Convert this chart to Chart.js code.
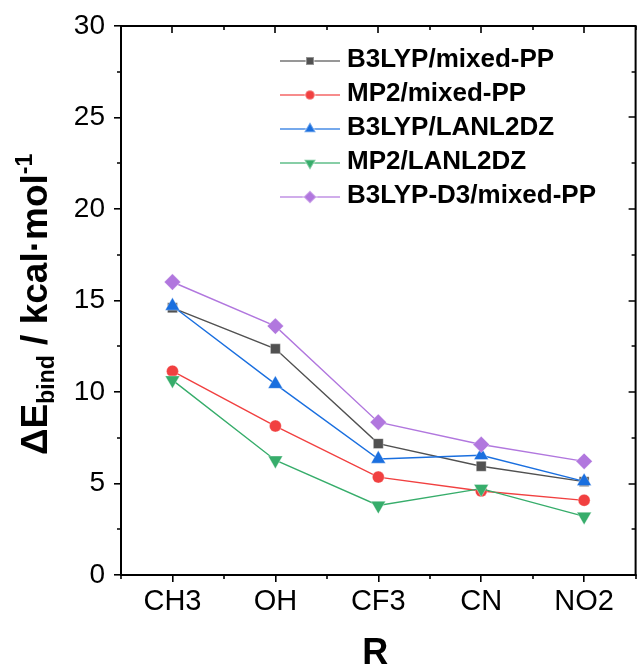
<!DOCTYPE html>
<html>
<head>
<meta charset="utf-8">
<script src="https://cdn.jsdelivr.net/npm/chart.js@4.4.1/dist/chart.umd.min.js"></script>
<style>
  html, body { margin: 0; padding: 0; background: #fff; overflow: hidden; }
  #wrap { position: relative; width: 645px; height: 668px; }
</style>
</head>
<body>
<div id="wrap"><canvas id="c"></canvas></div>
<script>
// values (kcal/mol)
const groups = ['CH3', 'OH', 'CF3', 'CN', 'NO2'];
const b3lypMixed = [14.6, 12.36, 7.18, 5.94, 5.1];
const mp2Mixed = [11.14, 8.14, 5.35, 4.59, 4.08];
const b3lypLanl = [14.7, 10.43, 6.34, 6.54, 5.12];
const mp2Lanl = [10.65, 6.27, 3.8, 4.72, 3.2];
const b3lypD3Mixed = [16.01, 13.6, 8.35, 7.13, 6.21];
const yTicks = [0, 5, 10, 15, 20, 25, 30];

const FONT = "'Liberation Sans', Arial, sans-serif";

const series = [
  { label: 'B3LYP/mixed-PP',    data: b3lypMixed,   color: '#515151', rgb: '81,81,81',    style: 'rect',     rot: 0,   r: 7.0 },
  { label: 'MP2/mixed-PP',      data: mp2Mixed,     color: '#f14040', rgb: '241,64,64',   style: 'circle',   rot: 0,   r: 6.0 },
  { label: 'B3LYP/LANL2DZ',     data: b3lypLanl,    color: '#1a6fdf', rgb: '26,111,223',  style: 'triangle', rot: 0,   r: 8.4 },
  { label: 'MP2/LANL2DZ',       data: mp2Lanl,      color: '#37ad6b', rgb: '55,173,107',  style: 'triangle', rot: 180, r: 8.4 },
  { label: 'B3LYP-D3/mixed-PP', data: b3lypD3Mixed, color: '#b177de', rgb: '177,119,222', style: 'rectRot',  rot: 0,   r: 8.2 }
];

// top/right frame, minor ticks, inward ticks, axis titles, legend
const decor = {
  id: 'decor',
  afterDraw(chart) {
    const { ctx, chartArea: a, scales: { x, y } } = chart;
    ctx.save();
    ctx.strokeStyle = '#000';
    ctx.lineWidth = 2;
    ctx.beginPath();
    ctx.moveTo(a.left, a.top);
    ctx.lineTo(a.right, a.top);
    ctx.lineTo(a.right, a.bottom);
    ctx.stroke();

    ctx.lineWidth = 1.6;
    ctx.beginPath();
    for (let v = -0.5; v <= groups.length - 0.5 + 1e-6; v += 0.5) {
      const px = Math.round(x.getPixelForValue(v));
      const major = Math.abs(v - Math.round(v)) < 1e-6;
      const len = major ? 7 : 4;
      if (!major) { ctx.moveTo(px, a.bottom); ctx.lineTo(px, a.bottom + len); }
      ctx.moveTo(px, a.top); ctx.lineTo(px, a.top + len);
    }
    for (let v = 0; v <= 30; v += 2.5) {
      const py = Math.round(y.getPixelForValue(v));
      const major = v % 5 === 0;
      const len = major ? 7 : 4;
      if (!major) { ctx.moveTo(a.left, py); ctx.lineTo(a.left - len, py); }
      ctx.moveTo(a.right, py); ctx.lineTo(a.right - len, py);
    }
    ctx.stroke();

    // x title
    ctx.fillStyle = '#000';
    ctx.font = 'bold 36px ' + FONT;
    ctx.textAlign = 'center';
    ctx.textBaseline = 'alphabetic';
    ctx.fillText('R', (a.left + a.right) / 2 - 3, 664);

    // y title with sub/superscript, rotated
    ctx.save();
    ctx.translate(47, 455);
    ctx.rotate(-Math.PI / 2);
    ctx.textAlign = 'left';
    let cx = 0;
    const put = (txt, size, dy) => {
      ctx.font = 'bold ' + size + 'px ' + FONT;
      ctx.fillText(txt, cx, dy);
      cx += ctx.measureText(txt).width;
    };
    put('\u0394E', 37, 0);
    put('bind', 23, 7);
    put(' / kcal\u00b7mol', 37, 0);
    put('-1', 23, -15);
    ctx.restore();

    // legend
    const helpers = Chart.helpers;
    chart.data.datasets.forEach((ds, i) => {
      const ly = 61 + 34 * i;
      ctx.strokeStyle = 'rgba(' + ds.rgb + ',0.6)';
      ctx.lineWidth = 2;
      ctx.beginPath();
      ctx.moveTo(280, ly);
      ctx.lineTo(340, ly);
      ctx.stroke();
      ctx.fillStyle = ds.pointBackgroundColor;
      ctx.strokeStyle = ds.pointBorderColor;
      helpers.drawPoint(ctx, {
        pointStyle: ds.pointStyle, rotation: ds.pointRotation,
        radius: ds.pointRadius * 0.8, borderWidth: ds.pointBorderWidth
      }, 310, ly);
      ctx.fillStyle = '#000';
      ctx.font = 'bold 26px ' + FONT;
      ctx.textAlign = 'left';
      ctx.textBaseline = 'middle';
      ctx.fillText(ds.label, 347, ly - 1);
    });
    ctx.restore();
  }
};

new Chart(document.getElementById('c'), {
  type: 'line',
  data: {
    labels: groups,
    datasets: series.map((s, i) => ({
      label: s.label,
      data: s.data,
      rgb: s.rgb,
      borderColor: s.color,
      borderWidth: 1.4,
      tension: 0,
      fill: false,
      pointStyle: s.style,
      pointRotation: s.rot,
      pointRadius: s.r,
      pointBackgroundColor: s.color,
      pointBorderColor: 'rgba(255,255,255,0.35)',
      pointBorderWidth: 1,
      order: series.length - i
    }))
  },
  options: {
    responsive: true,
    maintainAspectRatio: false,
    animation: false,
    devicePixelRatio: 1,
    layout: { padding: { top: 26, right: 6.5, left: 0, bottom: 0 } },
    plugins: { legend: { display: false }, tooltip: { enabled: false } },
    scales: {
      x: {
        offset: true,
        grid: { drawOnChartArea: false, drawTicks: true, tickLength: 7, color: '#000', lineWidth: 1.6, offset: false },
        border: { display: true, color: '#000', width: 2 },
        ticks: { color: '#000', font: { size: 29, family: FONT }, padding: 3, maxRotation: 0 },
        afterFit(scale) { scale.height = 93; }
      },
      y: {
        min: 0,
        max: 30,
        afterBuildTicks(scale) { scale.ticks = yTicks.map(v => ({ value: v })); },
        grid: { drawOnChartArea: false, drawTicks: true, tickLength: 7, color: '#000', lineWidth: 1.6 },
        border: { display: true, color: '#000', width: 2 },
        ticks: { color: '#000', font: { size: 28, family: FONT }, padding: 9 },
        afterFit(scale) { scale.width = 121; }
      }
    }
  },
  plugins: [decor]
});
</script>
</body>
</html>
